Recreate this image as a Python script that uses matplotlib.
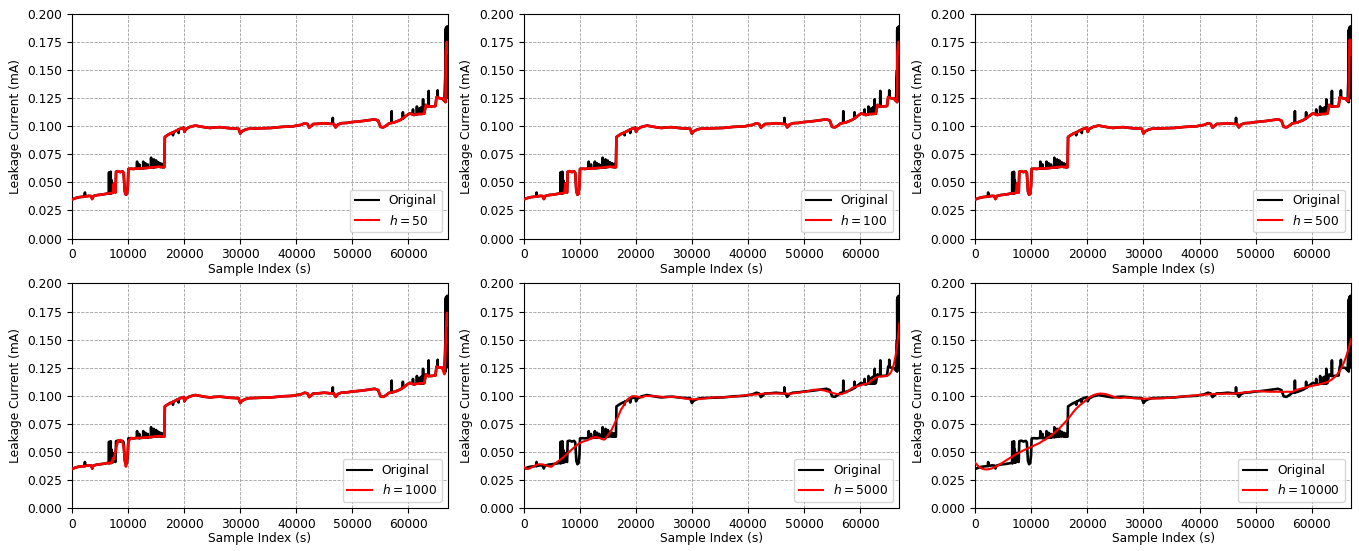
import warnings
import numpy as np
import matplotlib
matplotlib.use("Agg")
import matplotlib.pyplot as plt

# Underlying leakage-current level: sample index (s) and current (mA)
t_base = np.array([
    0, 500, 1000, 1500, 2000, 2500, 3000, 3400, 3600, 3800,
    4500, 5000, 5500, 6000, 6500, 7000, 7300, 7450, 7600, 7750,
    7850, 8200, 8600, 9000, 9200, 9400, 9600, 9800, 9950, 10050,
    10500, 11000, 11500, 12000, 12500, 13000, 13500, 14000, 14500, 15000,
    15500, 16000, 16450, 16550, 17000, 17500, 18000, 18700, 19300, 19900,
    20050, 20300, 21000, 22000, 22900, 23800, 24600, 25500, 26400, 27300,
    28200, 29000, 29700, 30000, 30300, 30900, 31500, 32500, 33600, 34500,
    35500, 36500, 37500, 38500, 39500, 40000, 40800, 41500, 42000, 42300,
    42700, 43000, 44000, 45000, 46000, 46700, 47000, 47400, 48000, 49000,
    50000, 51000, 52000, 53000, 54000, 54600, 55000, 55500, 56000, 56500,
    57500, 58500, 59500, 60200, 61000, 61500, 62000, 62800, 63100, 63500,
    64000, 64500, 64800, 65000, 65500, 66000, 66400, 66600, 66650, 66750,
    66850, 66930, 67000,
])
i_base = np.array([
    0.0348, 0.0358, 0.0366, 0.0370, 0.0372, 0.0376, 0.0380, 0.0378, 0.0352, 0.0378,
    0.0387, 0.0390, 0.0393, 0.0398, 0.0402, 0.0405, 0.0408, 0.0490, 0.0420, 0.0410,
    0.0595, 0.0600, 0.0592, 0.0598, 0.0585, 0.0420, 0.0390, 0.0400, 0.0470, 0.0620,
    0.0622, 0.0620, 0.0625, 0.0623, 0.0626, 0.0628, 0.0630, 0.0632, 0.0635, 0.0638,
    0.0640, 0.0637, 0.0635, 0.0905, 0.0920, 0.0935, 0.0945, 0.0964, 0.0978, 0.0988,
    0.0950, 0.0975, 0.0994, 0.1006, 0.0998, 0.0990, 0.0985, 0.0990, 0.0992, 0.0987,
    0.0982, 0.0980, 0.0978, 0.0935, 0.0955, 0.0970, 0.0978, 0.0980, 0.0982, 0.0983,
    0.0985, 0.0990, 0.0995, 0.0997, 0.1000, 0.1006, 0.1012, 0.1027, 0.1020, 0.0988,
    0.1005, 0.1020, 0.1022, 0.1027, 0.1022, 0.1020, 0.0990, 0.1015, 0.1027, 0.1030,
    0.1038, 0.1042, 0.1048, 0.1055, 0.1062, 0.1050, 0.0995, 0.0990, 0.1005, 0.1025,
    0.1035, 0.1055, 0.1090, 0.1115, 0.1100, 0.1108, 0.1110, 0.1112, 0.1190, 0.1176,
    0.1176, 0.1178, 0.1180, 0.1260, 0.1250, 0.1248, 0.1225, 0.1215, 0.1650, 0.1720,
    0.1750, 0.1680, 0.1650,
])

# Short excursions in the raw record: position, surrounding level, extreme value
spike_idx = [2300, 6600, 6750, 6900, 7050, 11600, 12000, 12700, 13100, 13500,
             14100, 14600, 15000, 15400, 15800, 16200, 18000, 19000, 46500, 57000,
             59000, 60800, 61500, 62000, 62300, 62600, 63600, 65200, 66700, 66800,
             66900, 66960, 66620]
spike_level = [0.0374, 0.0400, 0.0402, 0.0404, 0.0406, 0.0625, 0.0623, 0.0627, 0.0628, 0.0630,
               0.0632, 0.0635, 0.0638, 0.0640, 0.0638, 0.0636, 0.0945, 0.0970, 0.1022, 0.1030,
               0.1070, 0.1105, 0.1108, 0.1110, 0.1110, 0.1111, 0.1176, 0.1258, 0.1700, 0.1740,
               0.1700, 0.1660, 0.1500]
spike_peak = [0.0410, 0.0590, 0.0540, 0.0595, 0.0520, 0.0685, 0.0660, 0.0685, 0.0670, 0.0660,
              0.0720, 0.0705, 0.0695, 0.0680, 0.0670, 0.0665, 0.0920, 0.0940, 0.1075, 0.1135,
              0.1125, 0.1150, 0.1176, 0.1160, 0.1170, 0.1240, 0.1315, 0.1320, 0.1880, 0.1250,
              0.1890, 0.1820, 0.1860]

bandwidths = [50, 100, 500, 1000, 5000, 10000]
x_ticks = [0, 10000, 20000, 30000, 40000, 50000, 60000]
y_ticks = [0.0, 0.025, 0.05, 0.075, 0.1, 0.125, 0.15, 0.175, 0.2]


def raw_signal(half_width=25):
    """Level samples merged with the narrow excursions."""
    offs = np.array([-half_width, 0, half_width])
    st = (np.asarray(spike_idx)[:, None] + offs[None, :]).ravel()
    sv = np.column_stack([spike_level, spike_peak, spike_level]).ravel()
    t = np.concatenate([t_base, st])
    v = np.concatenate([i_base, sv])
    order = np.argsort(t, kind="stable")
    return t[order], v[order]


def local_poly_smooth(t, y, h, t_eval, order=5):
    """Sliding-window least-squares polynomial smoother (Savitzky-Golay style,
    half-width h, polynomial extension at the record ends) for irregular samples."""
    mid = (t[:-1] + t[1:]) / 2
    lo_edge = np.concatenate([[t[0]], mid])
    hi_edge = np.concatenate([mid, [t[-1]]])
    half = h
    c_min, c_max = t[0] + half, t[-1] - half
    out = np.empty(len(t_eval))
    for k, te in enumerate(t_eval):
        c = min(max(te, c_min), c_max) if c_max > c_min else te
        w = np.clip(np.minimum(hi_edge, c + half) - np.maximum(lo_edge, c - half), 0, None)
        m = w > 0
        n = int(m.sum())
        if n == 0:
            out[k] = y[np.argmin(np.abs(t - te))]
            continue
        deg = min(order, n - 1)
        if deg == 0:
            out[k] = np.average(y[m], weights=w[m])
        else:
            with warnings.catch_warnings():
                warnings.simplefilter("ignore")
                coef = np.polyfit((t[m] - c) / half, y[m], deg, w=np.sqrt(w[m]))
            out[k] = np.polyval(coef, (te - c) / half)
    return out


plt.rcParams["font.family"] = "DejaVu Sans"
plt.rcParams["font.size"] = 8.8

fig, axes = plt.subplots(2, 3, figsize=(13.59, 5.51), dpi=100)
fig.subplots_adjust(left=0.053, right=0.9941, bottom=0.078, top=0.9746,
                    wspace=0.202, hspace=0.20)

raw_t, raw_i = raw_signal()
x_end = t_base[-1]

for ax, h in zip(axes.ravel(), bandwidths):
    if h >= 5000:
        t_eval = np.linspace(0, x_end, 1200)
        lw_red = 1.5
    else:
        t_eval = t_base.astype(float)
        lw_red = 1.9
    smooth = local_poly_smooth(t_base.astype(float), i_base, h, t_eval)

    ax.plot(raw_t, raw_i, color="black", lw=1.9, label="Original", zorder=2)
    ax.plot(t_eval, smooth, color="red", lw=lw_red, label=rf"$h = {h}$", zorder=3)

    ax.set_xlim(0, x_end)
    ax.set_ylim(0, 0.2)
    ax.set_xticks(x_ticks)
    ax.set_yticks(y_ticks)
    ax.yaxis.set_major_formatter(matplotlib.ticker.FormatStrFormatter("%.3f"))
    ax.grid(True, linestyle="--", linewidth=0.6, color="#a0a0a0")
    ax.set_axisbelow(True)
    ax.set_xlabel("Sample Index (s)", labelpad=1)
    ax.set_ylabel("Leakage Current (mA)")
    leg = ax.legend(loc="lower right", handlelength=2.0)
    for line in leg.get_lines():
        line.set_linewidth(1.5)

fig.savefig("out.png", dpi=100)
